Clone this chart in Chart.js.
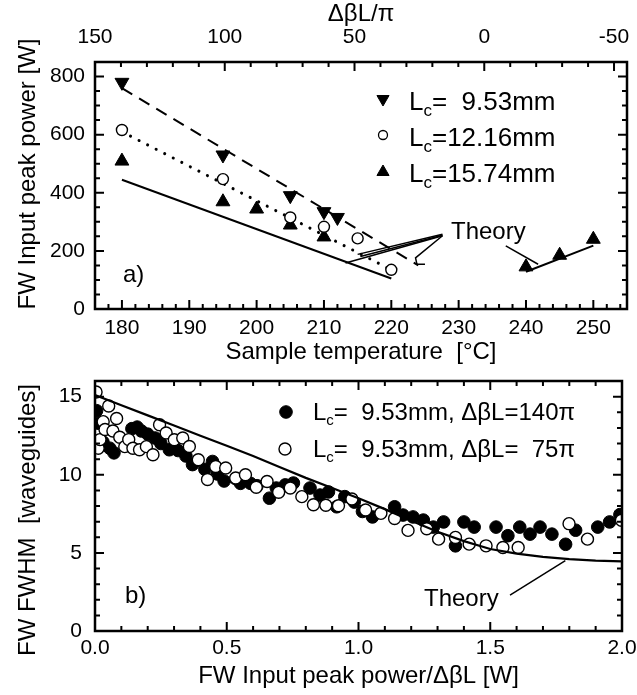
<!DOCTYPE html>
<html><head><meta charset="utf-8">
<script src="https://cdn.jsdelivr.net/npm/chart.js@4/dist/chart.umd.min.js"></script>
<style>
html,body{margin:0;padding:0;background:#fff;width:637px;height:695px;overflow:hidden}
#wa{position:absolute;left:0;top:0;width:637px;height:372px}
#wb{position:absolute;left:0;top:372px;width:637px;height:323px}
</style></head><body>
<div id="wa"><canvas id="ca"></canvas></div>
<div id="wb"><canvas id="cb"></canvas></div>
<script>
// ---------- Panel a) data ----------
const T_953  = [180, 195, 205, 210, 212];
const P_953  = [780, 530, 390, 335, 315];
const T_1216 = [180, 195, 205, 210, 215, 220];
const P_1216 = [616, 447, 315, 283, 243, 135];
const T_1574 = [180, 195, 200, 205, 210, 240, 245, 250];
const P_1574 = [509, 369, 344, 289, 248, 145, 185, 240];
// theory lines
const TH953_T  = [180, 224];  const TH953_P  = [760, 150];
const TH1216_T = [180, 220];  const TH1216_P = [610, 135];
const TH1574_T = [180, 220];  const TH1574_P = [445, 105];
const THHI_T   = [240, 250];  const THHI_P   = [128, 218];
// "Theory" pointer lines
const PTR1_T = [227.6, 215.0]; const PTR1_P = [257, 188];
const PTR2_T = [227.6, 215.4]; const PTR2_P = [254, 181];
const PTR3_T = [227.6, 213.2]; const PTR3_P = [252, 158];
const PTR4_T = [227.6, 223.6, 223.8, 225.0]; const PTR4_P = [252, 176, 154, 154];
const PTR5_T = [237.0, 241.8]; const PTR5_P = [217, 154];
const A_XTICKS = [180, 190, 200, 210, 220, 230, 240, 250];
const A_TOPTICKS = [150, 100, 50, 0, -50];
const A_YTICKS = [0, 200, 400, 600, 800];

// ---------- Panel b) data ----------
const F_X = [0.006,0.012,0.03,0.056,0.072,0.14,0.16,0.176,0.2,0.228,0.25,0.282,0.315,0.345,0.37,0.417,0.446,0.464,0.49,0.534,0.552,0.59,0.615,0.662,0.688,0.722,0.753,0.816,0.854,0.886,0.917,0.948,0.984,1.015,1.053,1.137,1.169,1.207,1.246,1.284,1.323,1.368,1.4,1.439,1.522,1.567,1.612,1.651,1.689,1.734,1.786,1.824,1.908,1.953,1.992];
const F_Y = [14.1,13.3,12.1,11.7,11.4,12.95,13.05,12.8,12.6,12.35,12.0,11.6,11.55,11.2,10.65,10.35,10.85,10.05,9.6,9.75,9.45,9.45,9.3,8.5,9.15,9.35,9.47,9.15,8.7,8.9,7.95,8.6,8.25,7.65,7.3,7.95,7.42,7.3,7.1,6.65,6.98,5.45,6.98,6.65,6.65,6.1,6.65,6.2,6.65,6.2,5.55,6.45,6.65,6.98,7.45];
const O_X = [0.004,0.012,0.019,0.031,0.038,0.052,0.068,0.082,0.094,0.113,0.128,0.144,0.169,0.195,0.22,0.245,0.27,0.301,0.333,0.358,0.392,0.427,0.458,0.496,0.534,0.571,0.612,0.653,0.697,0.741,0.785,0.829,0.876,0.924,0.975,1.027,1.085,1.137,1.188,1.259,1.304,1.368,1.42,1.484,1.548,1.606,1.799,1.869,1.998];
const O_Y = [15.3,11.7,12.25,13.4,12.9,14.4,12.8,13.6,12.4,11.8,12.25,11.7,11.6,11.8,11.28,13.2,12.67,12.24,12.35,11.81,10.96,9.7,10.53,10.43,9.79,10.0,9.2,9.57,8.88,9.15,8.6,8.08,8.05,8.02,8.45,7.74,7.53,7.2,6.44,6.54,5.88,5.99,5.56,5.45,5.34,5.34,6.87,5.88,7.09];
const THB_X = [0,0.1,0.2,0.3,0.4,0.5,0.6,0.7,0.8,0.9,1.0,1.1,1.2,1.3,1.4,1.5,1.6,1.7,1.8,1.9,2.0];
const THB_Y = [15.1,14.45,13.8,13.15,12.5,11.85,11.2,10.5,9.8,9.15,8.5,7.8,7.05,6.35,5.75,5.25,4.95,4.75,4.6,4.5,4.45];
const PTRB_X = [1.575, 1.785]; const PTRB_Y = [2.3, 4.5];
const B_XTICKS = [0, 0.5, 1.0, 1.5, 2.0];
const B_YTICKS = [0, 5, 10, 15];

// ---------- helpers ----------
const FAM = "'Liberation Sans', Arial, sans-serif";
Chart.defaults.font.family = FAM;
Chart.defaults.color = '#000';
const FT = 21, FTITLE = 24;
const zip = (xs, ys) => xs.map((x, i) => ({x, y: ys[i]}));

function drawRich(ctx, x, y, parts, size) {
  let cx = x;
  parts.forEach(p => {
    const sub = p[1] === 'sub';
    const fs = sub ? Math.round(size * 0.64) : size;
    ctx.font = fs + 'px ' + FAM;
    ctx.fillText(p[0], cx, y + (sub ? size * 0.22 : 0));
    cx += ctx.measureText(p[0]).width;
  });
}

const frameTicks = {
  id: 'frameTicks',
  afterDatasetsDraw(chart, args, o) {
    const {ctx, chartArea: a} = chart;
    ctx.save();
    ctx.strokeStyle = '#000';
    ctx.lineWidth = 2;
    ctx.beginPath();
    (o.axes || []).forEach(ax => {
      const s = chart.scales[ax.id];
      const lo = Math.min(s.min, s.max), hi = Math.max(s.min, s.max);
      for (let k = Math.ceil(lo / ax.minor - 1e-9); k * ax.minor <= hi + 1e-9; k++) {
        const v = k * ax.minor;
        const r = v / ax.major;
        const isMajor = Math.abs(r - Math.round(r)) < 1e-6;
        const len = isMajor ? 9 : 5;
        const p = s.getPixelForValue(v);
        ax.edges.forEach(e => {
          if (e === 'bottom') { ctx.moveTo(p, a.bottom); ctx.lineTo(p, a.bottom - len); }
          if (e === 'top') { ctx.moveTo(p, a.top); ctx.lineTo(p, a.top + len); }
          if (e === 'left') { ctx.moveTo(a.left, p); ctx.lineTo(a.left + len, p); }
          if (e === 'right') { ctx.moveTo(a.right, p); ctx.lineTo(a.right - len, p); }
        });
      }
    });
    ctx.stroke();
    ctx.lineWidth = 2.5;
    ctx.strokeRect(a.left, a.top, a.right - a.left, a.bottom - a.top);
    ctx.restore();
  }
};

const annot = {
  id: 'annot',
  afterDraw(chart, args, o) {
    const ctx = chart.ctx;
    ctx.save();
    ctx.textAlign = 'left'; ctx.textBaseline = 'alphabetic';
    (o.markers || []).forEach(m => {
      ctx.fillStyle = m.fill; ctx.strokeStyle = '#000'; ctx.lineWidth = m.bw;
      Chart.helpers.drawPoint(ctx, {pointStyle: m.style, radius: m.r, rotation: m.rot || 0, borderWidth: m.bw}, m.x, m.y);
    });
    ctx.fillStyle = '#000';
    (o.texts || []).forEach(t => drawRich(ctx, t.x, t.y, t.parts, t.size));
    (o.vtexts || []).forEach(t => {
      ctx.save(); ctx.translate(t.x, t.y); ctx.rotate(-Math.PI / 2);
      ctx.textAlign = 'center'; ctx.textBaseline = 'middle';
      ctx.font = t.size + 'px ' + FAM; ctx.fillText(t.text, 0, 0); ctx.restore();
    });
    ctx.restore();
  }
};

function fix(w, h) {
  return s => {
    if (w !== null) s.width = w;
    if (h !== null) s.height = h;
    s.paddingLeft = 0; s.paddingRight = 0; s.paddingTop = 0; s.paddingBottom = 0;
  };
}
function keep(list) { return s => { s.ticks = list.map(v => ({value: v})); }; }

const lineDs = (xs, ys, extra) => Object.assign({
  type: 'line', data: zip(xs, ys), showLine: true, pointRadius: 0,
  borderColor: '#000', borderWidth: 2, fill: false, tension: 0, order: 5
}, extra || {});

// ---------- Chart a) ----------
new Chart(document.getElementById('ca'), {
  type: 'scatter',
  data: {datasets: [
    {label: 'Lc=9.53mm', data: zip(T_953, P_953), pointStyle: 'triangle', rotation: 180, pointRadius: 8, backgroundColor: '#000', borderColor: '#000', borderWidth: 1, order: 0},
    {label: 'Lc=12.16mm', data: zip(T_1216, P_1216), pointStyle: 'circle', pointRadius: 5.5, backgroundColor: '#fff', borderColor: '#000', borderWidth: 1.4, order: 0},
    {label: 'Lc=15.74mm', data: zip(T_1574, P_1574), pointStyle: 'triangle', pointRadius: 8, backgroundColor: '#000', borderColor: '#000', borderWidth: 1, order: 0},
    lineDs(TH953_T, TH953_P, {borderDash: [12, 8]}),
    lineDs(TH1216_T, TH1216_P, {borderDash: [0.1, 9.5], borderWidth: 3, borderCapStyle: 'round'}),
    lineDs(TH1574_T, TH1574_P),
    lineDs(THHI_T, THHI_P),
    lineDs(PTR1_T, PTR1_P, {borderWidth: 1.5}),
    lineDs(PTR2_T, PTR2_P, {borderWidth: 1.5}),
    lineDs(PTR3_T, PTR3_P, {borderWidth: 1.5}),
    lineDs(PTR4_T, PTR4_P, {borderWidth: 1.5}),
    lineDs(PTR5_T, PTR5_P, {borderWidth: 1.5})
  ]},
  options: {
    responsive: true, maintainAspectRatio: false, animation: false, devicePixelRatio: 1,
    layout: {padding: {left: 0, right: 10, top: 0, bottom: 0}},
    plugins: {
      legend: {display: false}, tooltip: {enabled: false},
      frameTicks: {axes: [
        {id: 'x', major: 10, minor: 2, edges: ['bottom']},
        {id: 'x2', major: 50, minor: 10, edges: ['top']},
        {id: 'y', major: 200, minor: 50, edges: ['left', 'right']}
      ]},
      annot: {
        markers: [
          {style: 'triangle', rot: 180, r: 7, fill: '#000', bw: 1, x: 383, y: 99},
          {style: 'circle', r: 4.5, fill: '#fff', bw: 1.3, x: 383, y: 135},
          {style: 'triangle', r: 7, fill: '#000', bw: 1, x: 383, y: 172}
        ],
        texts: [
          {x: 409, y: 110, size: 26, parts: [['L'], ['c', 'sub'], ['=  9.53mm']]},
          {x: 409, y: 146, size: 26, parts: [['L'], ['c', 'sub'], ['=12.16mm']]},
          {x: 409, y: 182, size: 26, parts: [['L'], ['c', 'sub'], ['=15.74mm']]},
          {x: 451, y: 239, size: 24, parts: [['Theory']]},
          {x: 123, y: 282, size: 24, parts: [['a)']]}
        ],
        vtexts: [{x: 28, y: 174, size: FTITLE, text: 'FW Input peak power [W]'}]
      }
    },
    scales: {
      x: {type: 'linear', position: 'bottom', min: 176, max: 255,
          grid: {display: false, drawTicks: false}, border: {display: false},
          ticks: {stepSize: 10, includeBounds: false, autoSkip: false, maxRotation: 0, padding: 7, font: {size: FT}},
          title: {display: true, text: 'Sample temperature  [°C]', font: {size: FTITLE}, padding: {top: 0, bottom: 5}},
          afterBuildTicks: keep(A_XTICKS), afterFit: fix(null, 63)},
      x2: {type: 'linear', position: 'top', min: -55, max: 150, reverse: true,
          grid: {display: false, drawTicks: false}, border: {display: false},
          ticks: {stepSize: 50, includeBounds: false, autoSkip: false, maxRotation: 0, padding: 12, font: {size: FT}},
          title: {display: true, text: 'ΔβL/π', font: {size: FTITLE}, padding: {top: 0, bottom: 0}},
          afterBuildTicks: keep(A_TOPTICKS), afterFit: fix(null, 62)},
      y: {type: 'linear', position: 'left', min: 0, max: 850,
          grid: {display: false, drawTicks: false}, border: {display: false},
          ticks: {stepSize: 200, includeBounds: false, autoSkip: false, padding: 10, font: {size: FT}},
          title: {display: false},
          afterBuildTicks: keep(A_YTICKS), afterFit: fix(95, null)}
    }
  },
  plugins: [frameTicks, annot]
});

// ---------- Chart b) ----------
new Chart(document.getElementById('cb'), {
  type: 'scatter',
  data: {datasets: [
    lineDs(THB_X, THB_Y, {order: 0, borderWidth: 2.2}),
    {label: 'open', data: zip(O_X, O_Y), pointStyle: 'circle', pointRadius: 6, backgroundColor: '#fff', borderColor: '#000', borderWidth: 1.4, order: 1},
    {label: 'filled', data: zip(F_X, F_Y), pointStyle: 'circle', pointRadius: 6.3, backgroundColor: '#000', borderColor: '#000', borderWidth: 1, order: 2},
    lineDs(PTRB_X, PTRB_Y, {borderWidth: 1.5})
  ]},
  options: {
    responsive: true, maintainAspectRatio: false, animation: false, devicePixelRatio: 1,
    layout: {padding: {left: 0, right: 15, top: 9, bottom: 0}},
    plugins: {
      legend: {display: false}, tooltip: {enabled: false},
      frameTicks: {axes: [
        {id: 'x', major: 0.5, minor: 0.1, edges: ['bottom', 'top']},
        {id: 'y', major: 5, minor: 1, edges: ['left', 'right']}
      ]},
      annot: {
        markers: [
          {style: 'circle', r: 6.3, fill: '#000', bw: 1, x: 286, y: 40},
          {style: 'circle', r: 6, fill: '#fff', bw: 1.4, x: 285, y: 77}
        ],
        texts: [
          {x: 313, y: 48, size: 24, parts: [['L'], ['c', 'sub'], ['=  9.53mm, ΔβL=140π']]},
          {x: 313, y: 85, size: 24, parts: [['L'], ['c', 'sub'], ['=  9.53mm, ΔβL=  75π']]},
          {x: 424, y: 234, size: 24, parts: [['Theory']]},
          {x: 125, y: 231, size: 24, parts: [['b)']]}
        ],
        vtexts: [{x: 28, y: 148, size: FTITLE, text: 'FW FWHM  [waveguides]'}]
      }
    },
    scales: {
      x: {type: 'linear', position: 'bottom', min: 0, max: 2,
          grid: {display: false, drawTicks: false}, border: {display: false},
          ticks: {stepSize: 0.5, autoSkip: false, maxRotation: 0, padding: 5, font: {size: FT},
                  callback: v => Number(v).toFixed(1)},
          title: {display: true, text: 'FW Input peak power/ΔβL [W]', font: {size: FTITLE}, padding: {top: 0, bottom: 4}},
          afterBuildTicks: keep(B_XTICKS), afterFit: fix(null, 64)},
      y: {type: 'linear', position: 'left', min: 0, max: 16,
          grid: {display: false, drawTicks: false}, border: {display: false},
          ticks: {stepSize: 5, includeBounds: false, autoSkip: false, padding: 13, font: {size: FT}},
          title: {display: false},
          afterBuildTicks: keep(B_YTICKS), afterFit: fix(95, null)}
    }
  },
  plugins: [frameTicks, annot]
});
</script>
</body></html>
